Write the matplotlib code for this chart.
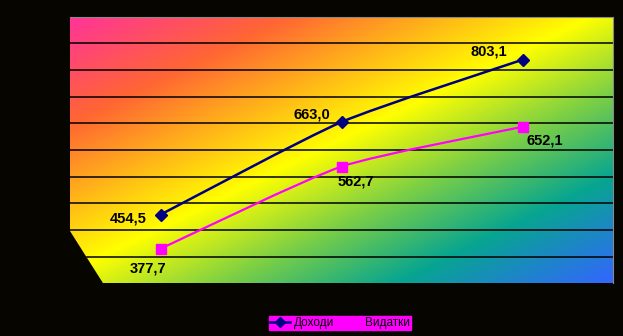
import numpy as np
import matplotlib
matplotlib.use("Agg")
import matplotlib.pyplot as plt
from matplotlib.colors import LinearSegmentedColormap
from matplotlib.patches import Polygon, PathPatch
from matplotlib.path import Path

categories = ["2001", "2002", "2003"]
income = [454.5, 663.0, 803.1]
expenses = [377.7, 562.7, 652.1]
income_label = "Доходи"
expenses_label = "Видатки"

bg = "#070500"
fig = plt.figure(figsize=(6.23, 3.36), dpi=100, facecolor=bg)

# plot area in figure fractions
left, right = 70 / 623, 613 / 623
top, bottom = 1 - 16.7 / 336, 1 - 283.3 / 336
ax = fig.add_axes([left, bottom, right - left, top - bottom])
ax.set_facecolor("none")

x = np.arange(len(categories))
ax.set_xlim(-0.5, len(categories) - 0.5)
ax.set_ylim(300, 900)

# plot area outline with the cut-off floor corner at lower left
shape = Polygon([(0, 1), (1, 1), (1, 0), (0.061, 0), (0, 0.196)],
                closed=True, transform=ax.transAxes, facecolor="none", edgecolor="none")
ax.add_patch(shape)

# diagonal rainbow fill
rainbow = LinearSegmentedColormap.from_list(
    "rainbow_fill",
    [(0.0, "#ff3399"), (0.2, "#ff6633"), (0.48, "#ffff00"),
     (0.64, "#7ccf45"), (0.8, "#07a590"), (1.0, "#3366ff")])
h, w = 270, 545
u = np.linspace(0, 1, w)[None, :]
v = np.linspace(0, 1, h)[:, None]
t = (u + v) / 2
img = ax.imshow(t, cmap=rainbow, vmin=0, vmax=1, extent=(0, 1, 0, 1),
                transform=ax.transAxes, aspect="auto", interpolation="bilinear",
                origin="upper", zorder=0)
img.set_clip_path(shape)

for gy in np.arange(360, 900, 60):
    gl, = ax.plot([-0.5, 2.5], [gy, gy], color="black", lw=1.1, zorder=1)
    gl.set_clip_path(shape)

for s in ["left", "bottom"]:
    ax.spines[s].set_visible(False)
for s in ["top", "right"]:
    ax.spines[s].set_color("#8a8a8a")
    ax.spines[s].set_linewidth(0.8)
ax.set_xticks([])
ax.set_yticks([])


def smooth_path(xs, ys, k=10.0):
    # cubic bezier through the points, mild smoothing
    pts = np.column_stack([xs, ys]).astype(float)
    ext = np.vstack([pts[0], pts, pts[-1]])
    verts = [pts[0]]
    codes = [Path.MOVETO]
    for i in range(len(pts) - 1):
        p0, p1, p2, p3 = ext[i], ext[i + 1], ext[i + 2], ext[i + 3]
        verts += [p1 + (p2 - p0) / k, p2 - (p3 - p1) / k, p2]
        codes += [Path.CURVE4] * 3
    return Path(verts, codes)


for ys, col, lw, mk, ms in [(income, "#000080", 1.8, "D", 6),
                            (expenses, "#ff00ff", 1.6, "s", 6.5)]:
    ax.add_patch(PathPatch(smooth_path(x, ys), facecolor="none", edgecolor=col,
                           lw=lw, zorder=3))
    ax.plot(x, ys, ls="none", marker=mk, markersize=ms, color=col, zorder=3)

# legend proxies
ax.plot([], [], color="#000080", lw=1.8, marker="D", markersize=6, label=income_label)
ax.plot([], [], color="#ff00ff", lw=1.6, marker="s", markersize=6.5, label=expenses_label)

fmt = lambda val: f"{val:.1f}".replace(".", ",")
income_off = [(-32, -4), (-30, 8), (-34, 8)]
expense_off = [(-12, -20), (14, -15), (22, -14)]
for xi, val, off in zip(x, income, income_off):
    ax.annotate(fmt(val), (xi, val), xytext=off, textcoords="offset pixels",
                ha="center", va="center", fontsize=10.5, fontweight="bold",
                family="Liberation Sans", color="black", zorder=4)
for xi, val, off in zip(x, expenses, expense_off):
    ax.annotate(fmt(val), (xi, val), xytext=off, textcoords="offset pixels",
                ha="center", va="center", fontsize=10.5, fontweight="bold",
                family="Liberation Sans", color="black", zorder=4)

leg = fig.legend(loc="center", bbox_to_anchor=(340 / 623, 1 - 323 / 336), ncol=2,
                 frameon=True, facecolor="#ff00ff", edgecolor="#ff00ff",
                 fancybox=False, framealpha=1, borderpad=0.1, handlelength=1.7,
                 handletextpad=0.3, columnspacing=0.6, markerscale=0.8,
                 prop={"family": "Liberation Sans", "size": 8.5})
for txt in leg.get_texts():
    txt.set_color("black")

fig.savefig("out.png", dpi=100, facecolor=bg)
